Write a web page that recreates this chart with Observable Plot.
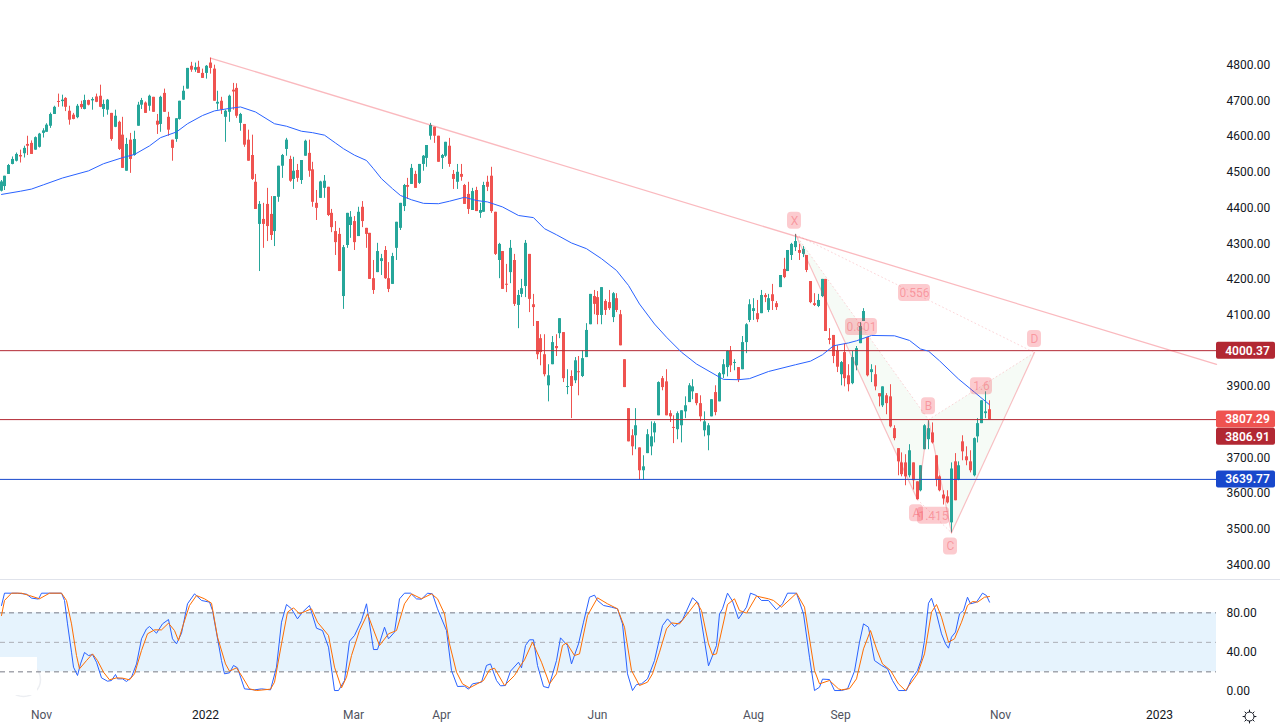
<!DOCTYPE html>
<html>
<head>
<meta charset="utf-8">
<script src="https://cdn.jsdelivr.net/npm/d3@7"></script>
<script src="https://cdn.jsdelivr.net/npm/@observablehq/plot@0.6"></script>
<style>
html,body{margin:0;padding:0;background:#fff;overflow:hidden}
svg{display:block}
#stoch{border-top:1px solid #e0e3eb}
</style>
</head>
<body>
<div id="price"></div>
<div id="stoch"></div>
<script>
const opens=[4447,4460,4494,4522,4531,4547,4552,4578,4581,4562,4570,4609,4612,4629,4662,4698,4698,4707,4671,4660,4653,4690,4676,4701,4700,4711,4713,4676,4674,4665,4626,4640,4604,4503,4590,4547,4629,4688,4694,4685,4710,4643,4634,4721,4654,4590,4592,4648,4702,4733,4797,4786,4794,4777,4777,4806,4789,4691,4699,4654,4668,4730,4735,4637,4634,4590,4547,4472,4354,4368,4410,4382,4334,4430,4517,4564,4536,4480,4505,4477,4545,4553,4507,4413,4427,4455,4458,4385,4334,4326,4152,4295,4351,4362,4320,4402,4343,4329,4202,4219,4250,4281,4202,4186,4287,4343,4404,4463,4466,4494,4469,4522,4539,4601,4626,4601,4539,4545,4573,4494,4472,4494,4463,4438,4393,4449,4385,4388,4472,4489,4388,4253,4278,4186,4219,4253,4127,4158,4180,4270,4129,4082,4034,3989,3902,3961,4012,4048,4051,3898,3928,3916,3941,3928,3981,4073,4152,4149,4099,4138,4135,4093,4146,4101,3975,3838,3762,3762,3728,3664,3712,3731,3770,3818,3922,3913,3824,3785,3779,3790,3829,3855,3885,3880,3852,3776,3762,3815,3883,3857,3933,3953,3998,3965,3953,3947,4023,4085,4110,4104,4104,4155,4113,4157,4132,4177,4228,4222,4267,4289,4281,4270,4267,4194,4132,4124,4152,4200,4034,4043,4000,3933,3995,3930,3908,3958,4020,4082,4037,3939,3933,3880,3846,3874,3871,3782,3726,3686,3686,3650,3686,3633,3608,3723,3751,3770,3706,3647,3596,3591,3518,3689,3639,3745,3703,3689,3650,3759,3796,3824,3835];
const highs=[4477,4489,4522,4543,4554,4562,4573,4601,4588,4599,4609,4622,4636,4666,4685,4719,4716,4709,4685,4665,4690,4699,4716,4702,4709,4719,4744,4702,4704,4665,4674,4643,4654,4595,4609,4615,4696,4707,4697,4716,4710,4662,4713,4733,4668,4590,4650,4699,4741,4791,4808,4806,4811,4789,4799,4820,4800,4727,4710,4674,4716,4749,4748,4665,4634,4618,4604,4494,4418,4413,4455,4432,4432,4517,4550,4595,4545,4542,4522,4533,4590,4590,4528,4449,4475,4491,4458,4396,4362,4343,4295,4385,4390,4376,4402,4418,4343,4329,4253,4301,4270,4292,4247,4273,4360,4413,4466,4483,4522,4503,4522,4547,4575,4637,4626,4601,4550,4584,4595,4505,4522,4522,4466,4472,4455,4458,4413,4472,4489,4514,4388,4301,4278,4242,4309,4270,4169,4200,4309,4270,4158,4082,4045,4045,3961,4040,4045,4090,4051,3947,3944,3981,3984,4000,4076,4158,4169,4166,4177,4143,4169,4163,4160,4113,3975,3838,3779,3838,3728,3706,3779,3801,3801,3913,3928,3947,3832,3818,3829,3832,3871,3908,3919,3880,3874,3829,3796,3863,3902,3939,3975,4000,4012,3975,3953,4040,4076,4143,4146,4141,4169,4160,4158,4186,4138,4211,4259,4281,4301,4326,4298,4292,4267,4194,4160,4158,4200,4200,4062,4043,4014,3970,4019,3961,3998,4012,4079,4118,4037,3961,3958,3880,3899,3880,3905,3790,3726,3714,3709,3737,3686,3633,3678,3793,3804,3798,3706,3650,3608,3608,3686,3712,3689,3762,3731,3720,3756,3810,3860,3885,3860];
const lows=[4445,4449,4494,4521,4529,4526,4540,4547,4550,4562,4568,4596,4612,4623,4662,4682,4683,4670,4632,4647,4650,4676,4675,4686,4674,4695,4681,4654,4660,4587,4625,4561,4511,4503,4497,4545,4629,4676,4665,4671,4668,4606,4612,4668,4601,4531,4584,4646,4702,4733,4780,4780,4777,4763,4761,4775,4699,4674,4662,4584,4640,4674,4651,4615,4570,4531,4477,4396,4222,4287,4306,4309,4292,4416,4483,4545,4472,4452,4472,4466,4545,4486,4402,4365,4427,4427,4376,4331,4267,4222,4116,4287,4315,4281,4320,4345,4287,4200,4158,4219,4211,4200,4163,4186,4253,4337,4390,4424,4466,4455,4466,4503,4514,4590,4581,4528,4508,4542,4514,4452,4452,4475,4410,4382,4393,4390,4371,4388,4446,4385,4267,4202,4172,4163,4188,4124,4062,4149,4149,4107,4068,3975,3958,3927,3857,3961,3984,4034,3911,3877,3810,3908,3874,3925,3981,4073,4101,4073,4073,4099,4113,4079,4107,4014,3897,3745,3706,3723,3638,3638,3712,3706,3742,3818,3888,3818,3799,3740,3751,3742,3810,3855,3863,3846,3801,3759,3720,3815,3818,3857,3922,3927,3939,3944,3911,3947,3992,4079,4085,4079,4104,4135,4107,4113,4113,4177,4202,4222,4253,4278,4253,4261,4219,4132,4124,4121,4149,4054,4017,3964,3939,3902,3899,3885,3905,3944,4020,4082,3927,3911,3888,3843,3841,3821,3784,3748,3650,3647,3622,3644,3610,3583,3605,3723,3723,3739,3619,3605,3568,3571,3490,3580,3636,3692,3678,3658,3647,3742,3796,3810,3807];
const closes=[4473,4489,4519,4536,4550,4543,4567,4573,4550,4597,4607,4616,4632,4662,4682,4696,4702,4682,4646,4648,4685,4681,4701,4688,4704,4696,4682,4690,4702,4592,4657,4564,4511,4578,4536,4592,4688,4701,4665,4713,4668,4632,4710,4668,4618,4567,4650,4699,4727,4791,4786,4793,4777,4763,4797,4791,4699,4696,4674,4671,4713,4725,4657,4662,4576,4531,4480,4396,4410,4354,4348,4323,4432,4517,4547,4590,4475,4503,4483,4533,4587,4503,4416,4399,4473,4475,4379,4345,4303,4222,4289,4385,4374,4303,4388,4362,4326,4200,4169,4278,4258,4202,4172,4264,4360,4413,4463,4458,4511,4455,4522,4545,4575,4631,4601,4528,4547,4584,4522,4480,4500,4486,4410,4396,4446,4390,4393,4463,4458,4390,4270,4298,4172,4184,4287,4130,4155,4174,4301,4144,4121,3989,3995,3933,3930,4023,4006,4090,3922,3899,3900,3972,3939,3978,4057,4158,4130,4099,4177,4113,4118,4160,4113,4014,3897,3745,3731,3790,3664,3675,3765,3759,3796,3911,3897,3818,3815,3783,3824,3832,3846,3902,3899,3852,3815,3801,3790,3863,3827,3936,3961,3998,3958,3967,3919,4023,4073,4129,4118,4087,4155,4149,4146,4138,4121,4211,4205,4281,4298,4306,4273,4284,4225,4135,4127,4141,4200,4054,4029,3984,3954,3967,3922,3905,3981,4006,4068,4110,3930,3947,3899,3871,3899,3852,3787,3754,3689,3653,3647,3720,3636,3583,3678,3790,3782,3742,3639,3608,3585,3574,3669,3580,3678,3717,3692,3664,3754,3796,3860,3829,3807];

const maBars=[0,5,8,11,16,23,27,32,35,39,42,46,49,53,56,60,63,67,72,75,79,82,85,88,90,93,96,98,100,103,105,108,111,115,118,122,125,128,132,136,140,143,146,150,154,158,162,165,168,172,175,179,183,189,190,194,197,202,209,213,216,219,223,225,229,235,239,242,244,247,252,256,260];
const maValues=[4438,4447,4453,4465,4484,4504,4524,4541,4550,4574,4597,4613,4636,4659,4672,4679,4683,4669,4636,4629,4615,4611,4604,4582,4566,4548,4533,4510,4482,4454,4435,4423,4413,4412,4419,4430,4421,4417,4403,4379,4373,4342,4325,4302,4286,4258,4225,4183,4131,4075,4038,3996,3963,3926,3920,3919,3922,3942,3961,3971,3989,4014,4022,4028,4043,4042,4029,4005,3999,3972,3921,3884,3849];

const kBars=[0,0.9,2.6,4.4,6.6,7.9,9.8,10.7,12.7,15.8,16.7,17.5,18.4,19.1,20,20.9,21.8,23,23.9,25,26.5,27.9,28.9,30,30.7,32,32.9,34.2,35.5,36.8,38.2,39,40.8,42.5,43.9,45.1,46.1,47.4,48.9,50.9,52.6,54.8,55.7,57.9,58.8,60.1,61,62.1,63.9,66.7,68.4,70.9,72.4,73.7,75,76.5,77.9,79.4,81.1,82.9,84.6,86,87.7,88.8,90.4,91.7,93,94.7,96.1,98.1,99.1,100.9,101.8,103.5,104.8,106.1,107.7,109.2,110.5,112.3,113.6,114.9,117.1,118.4,120,121.9,123,123.9,126.3,127.8,128.8,130.3,131.4,132.6,134,136,136.8,137.9,139,140.1,141.1,142.8,143.9,146.1,147.1,148.9,150,151.8,153.1,154.8,156,157,158.6,160.5,162.3,163.6,164.9,166,167.1,168.4,170.2,171.9,173.9,175.3,177.2,179.4,182,183.5,186,188.2,188.9,189.9,191.1,192.5,193.9,196,197.1,198.7,200,201.8,203.9,205.7,207,209.2,211,212.7,214,215.4,216.2,218,219.3,221,222.8,224.6,225.9,227,228.2,229.8,231.6,233.3,234.6,236.1,238.2,239.5,241.2,242.1,243,244.1,244.9,246.1,247.4,248.4,249.3,250,251.1,252.2,253.1,254.2,255.1,256.6,258.1,259.2,260.1];
const kValues=[87.5,100,100,100,99,95,94,100,100,100,92.6,68.8,40,24.8,16.3,28.1,39.7,36.6,37.6,29.8,13.9,10.5,11.2,17.3,12.9,12.9,10.2,14.6,28.1,53.6,63.7,66.1,59.3,68.8,73.2,53.6,48.5,59.3,89.2,99.3,92.6,90.9,82.4,31.5,18,19,26.5,24.1,2.7,1.7,2.7,1.7,24.8,70.5,88.5,84.1,73.9,80.7,87.5,64.4,62,45.1,1,1,11.2,51.2,57,72.2,89.2,42.7,42.7,65.4,53.6,60.4,94.2,100,100,94.2,93.9,100,99.3,84.1,62,21.4,5.1,5.4,2.4,7.8,9.5,26.5,28.1,11.2,5.8,6.1,20.7,29.8,24.1,46.8,52.6,52.6,26.5,5.1,3.7,31.5,54.6,46.8,28.1,48.5,70.5,95.9,98,92.6,87.5,85.8,84.1,68.8,18,1,7.1,7.8,12.9,31.5,67.1,73.9,66.1,72.9,95.3,89.8,26.1,46.8,79,84.1,100,91.9,73.9,85.8,100,97.6,92.6,92.6,83.1,89.2,100,100,79,34.9,1,4.4,12.6,12.2,1,1,2.7,20.7,50.2,68.8,65.4,31.5,26.5,23.1,11.2,1,1,12.9,21.4,33.2,51.9,89.8,94.9,79,58.7,48.5,44.1,55.3,60.4,79,82.4,95.9,89.2,90.9,100,97.6,90.9];

const dBars=[0,0.9,2.6,5.3,7.5,10.1,12.7,15.8,17.1,18.4,19.7,20.6,22.4,23.9,25.4,26.8,28.5,30.3,32,33.8,35.1,36.8,38.6,40.4,42.1,44.1,45.6,46.7,48.1,49.6,51.3,53.5,55.3,57,58.9,60.1,61.8,63.6,65.4,67.1,70.9,71.9,73.7,75.3,76.8,78.5,81.6,83.3,86,87.7,89.5,90.8,92.1,94.3,96.3,97.8,99.6,101.8,103.9,106.1,107.9,110.5,113.2,114.9,116.7,118,119.7,121.5,123.2,126.8,128.5,129.8,132.5,135.1,136.4,137.7,139.9,142.1,144.3,146.1,147.8,148.7,150.9,152.2,154.4,157,159.6,162.3,164,165.8,168,170.2,171.5,173.2,175,176.3,178.5,180.7,182.9,184.2,186,187.3,188.2,191.1,193,194.3,196,198.7,201.8,203.1,205.3,209.2,211.4,214,215.4,218,220.2,221,223.2,225,226.8,228.8,230.3,231.8,234,236,238,241.2,243,244.7,246.1,247.4,249.3,250.9,252.6,254.2,255.7,257,258.8,260.1];
const dValues=[77.3,92.6,100,100,97.6,94.3,100,100,92.6,68.8,36.6,23.1,31.5,38.3,31.5,19.7,11.9,13.9,13.6,11.9,18,41.7,58.7,62.7,62.7,69.5,62,51.9,68.8,87.5,97.6,94.3,89.8,55.3,28.1,20.7,24.1,14.6,2.7,1,2.4,9.5,48.5,80.7,85.1,79,84.1,70.5,57,24.8,3.7,14.6,36.6,62,79,65.4,46.8,58.7,62,89.2,99.3,94.3,99.3,94.3,79,48.5,19.7,7.8,3.7,11.2,22,23.7,6.1,16.3,24.8,32.2,50.2,29.8,7.8,18,46.8,49.5,36.6,38.3,77.3,95.3,89.2,84.1,65.4,21.4,6.1,9.5,18,40,63.7,69.8,68.8,79,90.9,82.4,48.5,37.3,38.3,88.5,94.3,82.4,79.7,97,94.3,92.6,85.8,100,85.8,21.4,7.8,11.2,2.7,1.7,3,12.9,43.4,62,43.4,28.1,21.4,7.8,1,18,38.3,80.7,88.5,75.6,50.2,53.6,70.5,87.5,91.5,90.9,95.9,96.6];

const priceTicks=[4800,4700,4600,4500,4400,4300,4200,4100,3900,3700,3600,3500,3400];
const stochTicks=[80,40,0];
const levelPrices=[4000.37,3807.29,3639.77];
const levelColors=["#b22833","#b22833","#1848cc"];
const tagPrices=[4000.37,3807.29,3806.91,3639.77];
const tagColors=["#b22833","#ef5350","#b22833","#1848cc"];
const tagSlots=[0,0,1,0];
const timeLabels=["Nov","2022","Mar","Apr","Jun","Aug","Sep","Nov","2023"];
const timeBars=[10.6,53.8,92.7,115.9,156.9,198,220.9,263,304.8];
const trendBars=[55,319.8];
const trendPrices=[4820,3962];
const patternNames=["X","A","B","C","D"];
const patternBars=[209,241,244,250,272];
const patternPrices=[4326,3583,3807,3490,3995];
const noteTexts=["X","0.556","0.801","A","1.415","B","1.6","C","D"];
const noteBars=[208.8,240.4,226.4,240.9,245.4,243.9,258,249.8,271.9];
const notePrices=[4364,4162,4067,3545,3538,3845,3901,3452,4033];

const pxPerBar=3.8, pxPerPoint=0.357, pxPerStoch=0.983;
const xDomain=[-0.184,319.8];
const fontFamily="Roboto, 'Open Sans', sans-serif";
const baseStyle={fontFamily,fontSize:"12px",background:"#fff",overflow:"visible"};
const PINK="#f23645";
const minBody=1/pxPerPoint;

const candles=opens.map((o,i)=>{
  const c=closes[i],hi=Math.max(o,c),lo=Math.min(o,c),mid=(hi+lo)/2,thin=hi-lo<minBody;
  return {i,o,c,h:highs[i],l:lows[i],top:thin?mid+minBody/2:hi,bot:thin?mid-minBody/2:lo,col:c>=o?"#26a69a":"#ef5350"};
});
const ma=maBars.map((i,n)=>({i,v:maValues[n]}));
const kLine=kBars.map((i,n)=>({i,v:kValues[n]}));
const dLine=dBars.map((i,n)=>({i,v:dValues[n]}));
const trend=trendBars.map((i,n)=>({i,v:trendPrices[n]}));
const pts=Object.fromEntries(patternNames.map((k,n)=>[k,{i:patternBars[n],v:patternPrices[n]}]));
const tri1=[pts.X,pts.A,pts.B], tri2=[pts.B,pts.C,pts.D];
const seg=(a,b,o)=>Plot.line([a,b],{x:"i",y:"v",stroke:PINK,strokeOpacity:.3,strokeWidth:1.2,...o});
const dotted={strokeDasharray:"1,3",strokeOpacity:.2,strokeWidth:1};
const notes=noteTexts.map((t,n)=>{const hw=(t.length===1?7:t.length===3?11:16)/pxPerBar,hh=8.5/pxPerPoint;return {t,i:noteBars[n],v:notePrices[n],x1:noteBars[n]-hw,x2:noteBars[n]+hw,y1:notePrices[n]-hh,y2:notePrices[n]+hh};});
const tagX1=(1216-0.7)/pxPerBar, tagX2=(1275-0.7)/pxPerBar, tagXc=(1247-0.7)/pxPerBar;
const tags=tagPrices.map((p,n)=>{const shown=p-tagSlots[n]*17/pxPerPoint;return {p,shown,col:tagColors[n],y1:shown-8.5/pxPerPoint,y2:shown+8.5/pxPerPoint};});
const levels=levelPrices.map((p,n)=>({p,col:levelColors[n]}));

const pricePlot=Plot.plot({
  width:1280,height:579,marginLeft:0,marginRight:64,marginTop:0,marginBottom:0,style:baseStyle,
  x:{domain:xDomain,axis:null,round:true},
  y:{domain:[3359.4,4981.2],axis:null},
  marks:[
    Plot.line(tri1,{x:"i",y:"v",fill:"#4caf50",fillOpacity:.05,stroke:"none"}),
    Plot.line(tri2,{x:"i",y:"v",fill:"#4caf50",fillOpacity:.05,stroke:"none"}),
    Plot.ruleX(candles,{x:"i",y1:"l",y2:"h",stroke:"col",strokeWidth:1}),
    Plot.ruleX(candles,{x:"i",y1:"bot",y2:"top",stroke:"col",strokeWidth:3}),
    Plot.ruleY(levels,{y:"p",stroke:"col",strokeWidth:1}),
    Plot.line(ma,{x:"i",y:"v",stroke:"#2962ff",strokeWidth:1}),
    Plot.line(trend,{x:"i",y:"v",stroke:PINK,strokeOpacity:.35,strokeWidth:1.3}),
    seg(pts.X,pts.A,{}),seg(pts.A,pts.B,{}),seg(pts.B,pts.C,{}),seg(pts.C,pts.D,{}),
    seg(pts.X,pts.B,dotted),seg(pts.A,pts.C,dotted),seg(pts.B,pts.D,dotted),seg(pts.X,pts.D,dotted),
    Plot.rect(notes,{x1:"x1",x2:"x2",y1:"y1",y2:"y2",fill:PINK,fillOpacity:.26,rx:4}),
    Plot.text(notes,{x:"i",y:"v",text:"t",fill:PINK,fillOpacity:.35,fontSize:12}),
    Plot.axisY(priceTicks,{anchor:"right",tickSize:0,tickPadding:10,tickFormat:d=>d.toFixed(2),label:null,fill:"#131722",fontSize:12}),
    Plot.rect(tags,{x1:()=>tagX1,x2:()=>tagX2,y1:"y1",y2:"y2",fill:"col",rx:2}),
    Plot.text(tags,{x:()=>tagXc,y:"shown",text:d=>d.p.toFixed(2),fill:"#fff",fontWeight:600,fontSize:12})
  ]
});
document.getElementById("price").append(pricePlot);

const timeAxis=timeLabels.map((t,n)=>({t,i:timeBars[n],year:/^\d+$/.test(t)}));
const settingsY=(691-716)/pxPerStoch;
const logoX=(23-0.7)/pxPerBar, logoY=(691-679)/pxPerStoch;
const stochPlot=Plot.plot({
  width:1280,height:148,marginLeft:0,marginRight:64,marginTop:0,marginBottom:0,style:baseStyle,
  x:{domain:xDomain,axis:null,round:true},
  y:{domain:[-37.6,112.9],axis:null},
  marks:[
    Plot.rect([{y1:20,y2:80}],{x1:()=>xDomain[0],x2:()=>xDomain[1],y1:"y1",y2:"y2",fill:"#e6f3fd"}),
    Plot.dot([0],{x:()=>logoX,y:()=>logoY,r:17,stroke:"#eceef2",fill:"none"}),
    Plot.rect([0],{x1:()=>xDomain[0],x2:()=>(37-0.7)/pxPerBar,y1:()=>(691-695)/pxPerStoch,y2:()=>(691-657)/pxPerStoch,fill:"#fff"}),
    Plot.ruleY([80,20],{stroke:"#787b86",strokeDasharray:"5,4",strokeWidth:1}),
    Plot.ruleY([50],{stroke:"#adafb6",strokeDasharray:"5,4",strokeWidth:1}),
    Plot.line(kLine,{x:"i",y:"v",stroke:"#2962ff",strokeWidth:1}),
    Plot.line(dLine,{x:"i",y:"v",stroke:"#ff6d00",strokeWidth:1}),
    Plot.axisY(stochTicks,{anchor:"right",tickSize:0,tickPadding:10,tickFormat:d=>d.toFixed(2),label:null,fill:"#131722",fontSize:12}),
    Plot.text(timeAxis,{x:"i",text:"t",frameAnchor:"bottom",dy:-13,lineAnchor:"middle",fontSize:12,fill:d=>d.year?"#131722":"#50535e",fontWeight:d=>d.year?600:400}),
    Plot.dot([0],{x:()=>(1249-0.7)/pxPerBar,y:()=>settingsY,r:4.5,symbol:"plus",stroke:"#131722",strokeWidth:1}),
    Plot.dot([0],{x:()=>(1249-0.7)/pxPerBar,y:()=>settingsY,r:4.5,symbol:"times",stroke:"#131722",strokeWidth:1}),
    Plot.dot([0],{x:()=>(1249-0.7)/pxPerBar,y:()=>settingsY,r:4.5,fill:"#fff",stroke:"#131722",strokeWidth:1})
  ]
});
document.getElementById("stoch").append(stochPlot);
</script>
</body>
</html>
